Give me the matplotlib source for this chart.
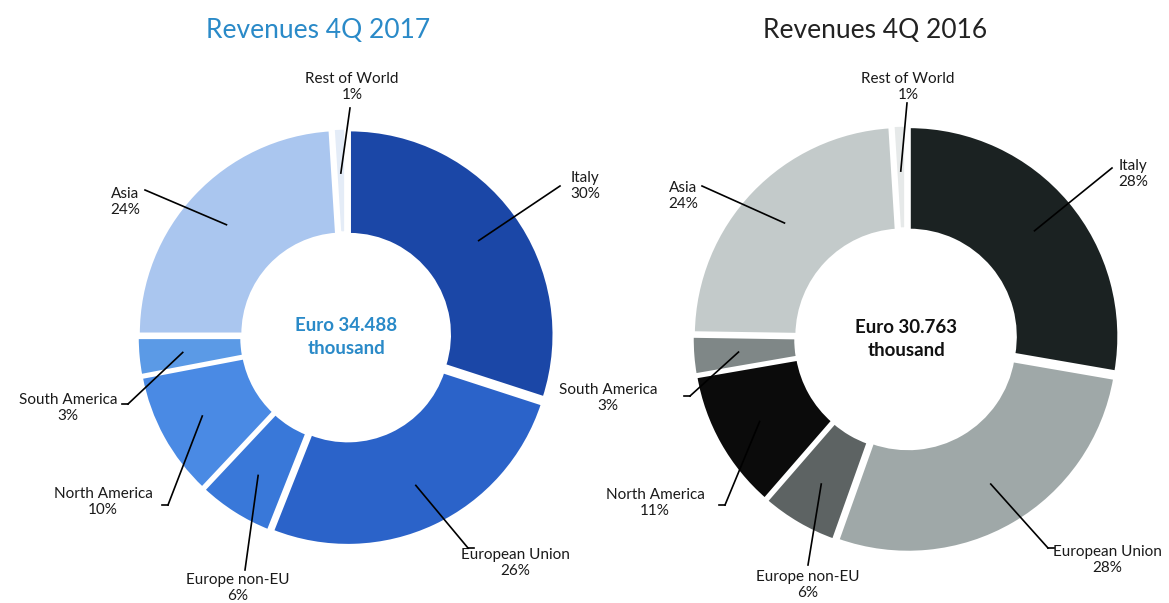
import numpy as np
import matplotlib.pyplot as plt

plt.rcParams['font.family'] = ['Lato', 'DejaVu Sans']

regions = ["Italy", "European Union", "Europe non-EU", "North America",
           "South America", "Asia", "Rest of World"]
pct_2017 = [30, 26, 6, 10, 3, 24, 1]
pct_2016 = [28, 28, 6, 11, 3, 24, 1]
total_2017 = "Euro 34.488\nthousand"
total_2016 = "Euro 30.763\nthousand"

blues = ["#1b47a7", "#2b63c9", "#3978d9", "#4a8ae4", "#5b9ae6", "#aac6ef", "#e4ecf7"]
greys = ["#1b2222", "#9fa8a8", "#5d6363", "#0b0b0b", "#7f8787", "#c3caca", "#e6e9e9"]

# label anchor (text centre) and elbow point for each leader line, in pixels
lab_2017 = [(585, 186), (515, 563), (238, 588), (103, 502), (68, 408), (125, 202), (352, 87)]
elb_2017 = [(560, 186), (468, 548), (245, 570), (168, 505), (128, 404), (145, 190), (350, 108)]
lab_2016 = [(1133, 174), (1107, 560), (808, 585), (655, 503), (608, 398), (683, 196), (908, 87)]
elb_2016 = [(1112, 168), (1048, 548), (808, 565), (725, 505), (690, 396), (702, 186), (907, 103)]

fig = plt.figure(figsize=(11.69, 6.03), dpi=100)
ax = fig.add_axes([0, 0, 1, 1])


def donut(vals, cols, cx, cy, R, hole, labs, elbows, title, tcol, centre_txt, ccol, tx):
    # y axis is inverted (pixel space), so counterclock=True runs clockwise on screen
    wedges, _ = ax.pie(vals, colors=cols, startangle=-90, counterclock=True,
                       radius=R, center=(cx, cy), explode=[4] * len(vals),
                       wedgeprops=dict(width=R - hole, edgecolor="white", linewidth=2.5),
                       frame=True)
    tot = float(sum(vals))
    cum = np.cumsum([0] + list(vals))
    for i, w in enumerate(wedges):
        mid = np.radians(-90 + 360 * (cum[i] + vals[i] / 2) / tot)
        r = R * 0.8
        px, py = cx + r * np.cos(mid), cy + r * np.sin(mid)
        ex, ey = elbows[i]
        lx, ly = labs[i]
        ax.plot([px, ex], [py, ey], color="black", lw=1.2, zorder=5)
        if abs(ex - lx) > 30:
            ax.plot([ex, ex + (6 if lx > ex else -6)], [ey, ey], color="black", lw=1.2, zorder=5)
        ax.text(lx, ly, f"{regions[i]}\n{vals[i]}%", ha="center", va="center",
                fontsize=11, color="#1a1a1a", linespacing=1.25)
    ax.text(cx, cy, centre_txt, ha="center", va="center", fontsize=13.5,
            fontweight="bold", color=ccol, linespacing=1.45)
    ax.text(tx, 30, title, ha="center", va="center", fontsize=19, color=tcol)


donut(pct_2017, blues, 346, 337, 205, 100, lab_2017, elb_2017,
      "Revenues 4Q 2017", "#2a8ac8", total_2017, "#2a8ac8", 318)
donut(pct_2016, greys, 906, 339, 210, 106, lab_2016, elb_2016,
      "Revenues 4Q 2016", "#222222", total_2016, "#111111", 875)

ax.set_xlim(0, 1169)
ax.set_ylim(603, 0)
ax.set_aspect("equal")
ax.axis("off")

fig.savefig("out.png", dpi=100)
